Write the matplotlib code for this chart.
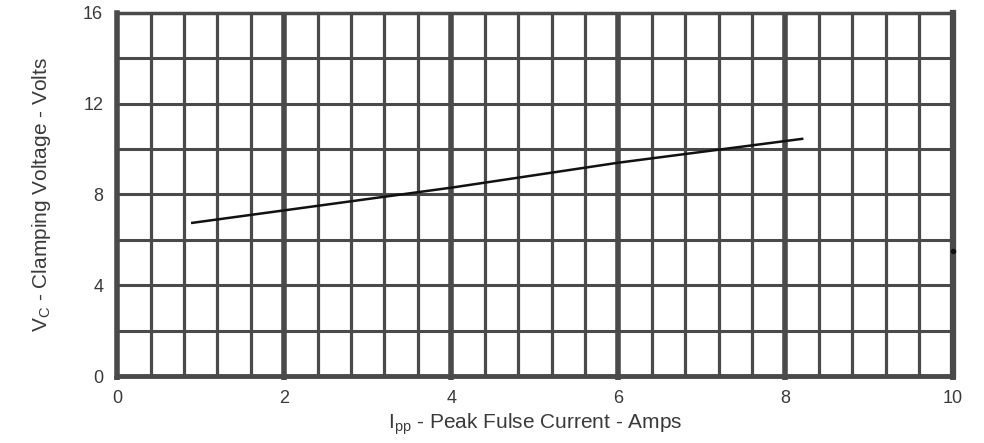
import matplotlib
matplotlib.use("Agg")
import matplotlib.pyplot as plt

# clamping voltage curve
ipp = [0.9, 2.0, 4.0, 6.0, 8.2]
vc = [6.75, 7.3, 8.3, 9.4, 10.45]

# stray dot on the right border
dot_x = [10.0]
dot_y = [5.5]

x_major = [0, 2, 4, 6, 8, 10]
x_minor = [0.4 * i for i in range(26) if i % 5 != 0]
y_grid = [2, 4, 6, 8, 10, 12, 14]
y_ticks = [0, 4, 8, 12, 16]

plt.rcParams['font.family'] = ['Liberation Sans', 'DejaVu Sans']
grid_col = '#4a4a4a'
text_col = '#3a3a3a'


def make_chart():
    fig = plt.figure(figsize=(9.84, 4.43), dpi=100)
    ax = fig.add_axes([0.119, 0.151, 0.849, 0.820])
    ax.set_xlim(0, 10)
    ax.set_ylim(0, 16)

    # grid
    for x in x_minor:
        ax.axvline(x, color=grid_col, lw=2.3, zorder=1)
    for x in x_major[1:-1]:
        ax.axvline(x, color=grid_col, lw=4.0, zorder=1)
    for y in y_grid:
        ax.axhline(y, color=grid_col, lw=2.2, zorder=1)

    for side in ['left', 'right', 'bottom', 'top']:
        ax.spines[side].set_color(grid_col)
    ax.spines['left'].set_linewidth(4.0)
    ax.spines['right'].set_linewidth(4.5)
    ax.spines['bottom'].set_linewidth(3.5)
    ax.spines['top'].set_linewidth(2.5)

    ax.plot(ipp, vc, color='#111111', lw=1.8, zorder=3)
    ax.plot(dot_x, dot_y, 'o', color='#111111', ms=3, zorder=4, clip_on=False)

    ax.set_xticks(x_major)
    ax.set_xticklabels([str(v) for v in x_major])
    ax.set_yticks(y_ticks)
    ax.set_yticklabels([str(v) for v in y_ticks])
    ax.tick_params(axis='x', length=3, width=4.0, color=grid_col, pad=7,
                   labelsize=13, labelcolor=text_col)
    ax.tick_params(axis='y', length=0, pad=10, labelsize=13, labelcolor=text_col)

    ax.set_xlabel(r'I$_{\mathregular{pp}}$ - Peak Fulse Current - Amps',
                  fontsize=15, color=text_col, labelpad=3)
    ax.set_ylabel(r'V$_{\mathregular{C}}$ - Clamping Voltage - Volts',
                  fontsize=15, color=text_col, labelpad=22)

    fig.savefig('out.png', dpi=100)


if __name__ == "__main__":
    make_chart()
